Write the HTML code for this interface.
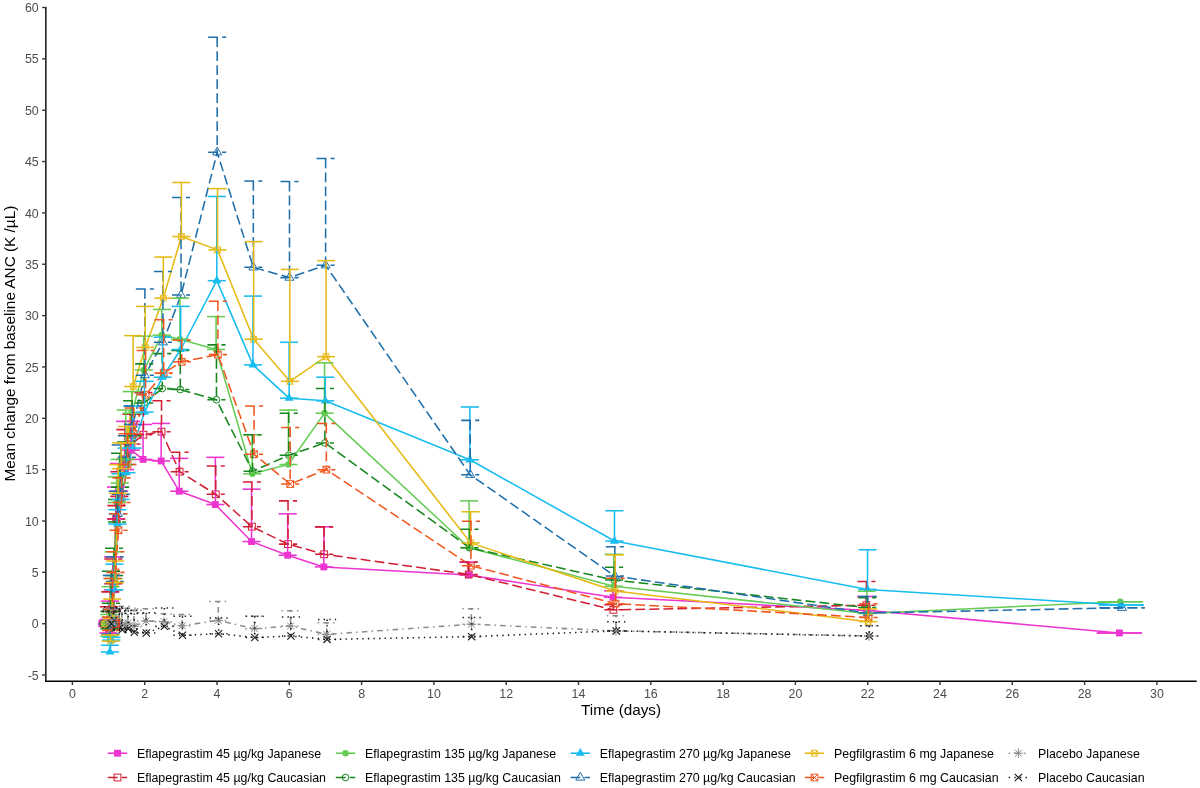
<!DOCTYPE html><html><head><meta charset="utf-8"><style>html,body{margin:0;padding:0;background:#fff}svg{display:block;will-change:transform}text{font-family:"Liberation Sans",sans-serif}</style></head><body>
<svg width="1200" height="788" viewBox="0 0 1200 788">
<rect width="1200" height="788" fill="#fff"/>
<polyline points="102.05,623.7 108.44,632.94 109.92,619.59 112.96,589.81 115.96,518.95 118.96,491.22 125,469.65 131.04,450.14 143.07,459.38 161.15,460.92 179.22,491.22 215.37,504.57 251.52,541.54 287.67,555.2 323.82,566.91 468.42,574.92 613.02,597.31 866.07,610.35 1119.39,632.94" stroke="#EC34D0" stroke-width="1.55" fill="none" stroke-linejoin="round"/>
<polyline points="116.05,623.7 108.8,626.78 110.29,611.38 113.32,583.65 116.32,518.95 119.32,496.35 125.36,459.38 131.4,443.98 143.43,434.73 161.51,431.65 179.58,471.7 215.73,494.3 251.88,526.65 288.03,544.11 324.18,554.27 468.78,574.4 613.38,609.84 866.43,605.21" stroke="#D21E34" stroke-width="1.55" fill="none" stroke-dasharray="9.8 4.2" stroke-linejoin="round"/>
<polyline points="104.05,623.7 109.16,636.02 110.65,617.54 113.68,578.51 116.68,502.51 119.68,483 125.72,459.38 131.76,413.17 143.8,370.03 161.87,335.11 179.95,339.22 216.1,349.49 252.25,473.76 288.4,464.52 324.55,413.17 469.15,547.7 613.75,586.21 866.8,613.43 1120.3,601.72" stroke="#66CC55" stroke-width="1.55" fill="none" stroke-linejoin="round"/>
<polyline points="103.05,623.7 109.53,628.84 111.01,603.16 114.04,575.43 117.05,522.03 120.05,487.11 126.08,464.52 132.12,435.76 144.16,402.9 162.23,388.52 180.31,389.54 216.46,399.81 252.61,471.19 288.76,455.27 324.91,442.95 469.51,547.7 614.11,580.05 867.16,607.58" stroke="#16861E" stroke-width="1.55" fill="none" stroke-dasharray="9.8 4.2" stroke-linejoin="round"/>
<polyline points="113.05,623.7 109.89,651.94 111.37,640.13 114.41,589.81 117.41,524.08 120.41,499.43 126.44,472.73 132.48,448.08 144.52,412.14 162.59,377.22 180.67,349.49 216.82,280.68 252.97,364.9 289.12,398.17 325.27,400.84 469.87,459.79 614.47,541.03 867.52,589.4 1121.2,605.01" stroke="#17BDF0" stroke-width="1.55" fill="none" stroke-linejoin="round"/>
<polyline points="114.05,623.7 110.25,633.97 111.73,609.32 114.77,581.59 117.77,513.81 120.77,494.3 126.81,457.33 132.84,424.46 144.88,375.17 162.96,342.3 181.03,295.06 217.18,152.31 253.33,267.33 289.48,277.6 325.63,265.28 470.23,474.79 614.83,576.05 867.88,613.02 1122.11,607.78" stroke="#1F6FAB" stroke-width="1.55" fill="none" stroke-dasharray="9.8 4.2" stroke-linejoin="round"/>
<polyline points="104.95,623.7 110.61,641.16 112.09,618.57 115.13,582.62 118.13,493.27 121.13,468.62 127.17,442.95 133.2,386.46 145.24,347.44 163.32,298.14 181.39,236.52 217.54,249.87 253.69,339.22 289.84,381.33 325.99,356.68 470.59,542.88 615.19,591.04 868.24,621.65" stroke="#E6B914" stroke-width="1.55" fill="none" stroke-linejoin="round"/>
<polyline points="115.55,623.7 110.97,630.38 112.45,609.32 115.49,572.35 118.49,530.24 121.49,502.51 127.53,464.52 133.57,433.71 145.6,394.68 163.68,373.11 181.75,361.82 217.9,354.63 254.05,454.25 290.2,484.03 326.35,469.65 470.95,565.67 615.55,603.67 868.6,617.44" stroke="#F0561E" stroke-width="1.55" fill="none" stroke-dasharray="9.8 4.2" stroke-linejoin="round"/>
<polyline points="109.05,623.7 111.33,620.62 112.82,625.75 115.85,622.67 118.85,620.62 121.85,624.73 127.89,622.98 133.93,626.37 145.97,621.03 164.04,621.65 182.12,625.75 218.27,620.41 254.42,628.73 290.57,625.96 326.72,634.38 471.32,624.21 615.92,630.89 868.97,636.02" stroke="#8C8C8C" stroke-width="1.55" fill="none" stroke-dasharray="1.4 4.2 5.6 4.2" stroke-linejoin="round"/>
<polyline points="111.35,623.7 111.7,626.78 113.18,621.65 116.21,627.81 119.21,625.75 122.21,629.86 128.25,628.84 134.29,632.33 146.33,632.94 164.4,626.37 182.48,635.31 218.63,633.76 254.78,637.46 290.93,636.02 327.08,639.41 471.68,636.64 616.28,630.89 869.33,636.02" stroke="#1A1A1A" stroke-width="1.55" fill="none" stroke-dasharray="1.4 4.2" stroke-linejoin="round"/>
<rect x="98.6" y="620.25" width="6.9" height="6.9" fill="#EC34D0"/>
<rect x="104.99" y="629.49" width="6.9" height="6.9" fill="#EC34D0"/>
<rect x="106.47" y="616.14" width="6.9" height="6.9" fill="#EC34D0"/>
<rect x="109.51" y="586.36" width="6.9" height="6.9" fill="#EC34D0"/>
<rect x="112.51" y="515.5" width="6.9" height="6.9" fill="#EC34D0"/>
<rect x="115.51" y="487.77" width="6.9" height="6.9" fill="#EC34D0"/>
<rect x="121.55" y="466.2" width="6.9" height="6.9" fill="#EC34D0"/>
<rect x="127.59" y="446.69" width="6.9" height="6.9" fill="#EC34D0"/>
<rect x="139.62" y="455.93" width="6.9" height="6.9" fill="#EC34D0"/>
<rect x="157.7" y="457.47" width="6.9" height="6.9" fill="#EC34D0"/>
<rect x="175.77" y="487.77" width="6.9" height="6.9" fill="#EC34D0"/>
<rect x="211.92" y="501.12" width="6.9" height="6.9" fill="#EC34D0"/>
<rect x="248.07" y="538.09" width="6.9" height="6.9" fill="#EC34D0"/>
<rect x="284.22" y="551.75" width="6.9" height="6.9" fill="#EC34D0"/>
<rect x="320.37" y="563.46" width="6.9" height="6.9" fill="#EC34D0"/>
<rect x="464.97" y="571.47" width="6.9" height="6.9" fill="#EC34D0"/>
<rect x="609.57" y="593.86" width="6.9" height="6.9" fill="#EC34D0"/>
<rect x="862.62" y="606.9" width="6.9" height="6.9" fill="#EC34D0"/>
<rect x="1115.94" y="629.49" width="6.9" height="6.9" fill="#EC34D0"/>
<rect x="112.65" y="620.3" width="6.8" height="6.8" fill="none" stroke="#D21E34" stroke-width="1"/>
<rect x="105.4" y="623.38" width="6.8" height="6.8" fill="none" stroke="#D21E34" stroke-width="1"/>
<rect x="106.89" y="607.98" width="6.8" height="6.8" fill="none" stroke="#D21E34" stroke-width="1"/>
<rect x="109.92" y="580.25" width="6.8" height="6.8" fill="none" stroke="#D21E34" stroke-width="1"/>
<rect x="112.92" y="515.55" width="6.8" height="6.8" fill="none" stroke="#D21E34" stroke-width="1"/>
<rect x="115.92" y="492.95" width="6.8" height="6.8" fill="none" stroke="#D21E34" stroke-width="1"/>
<rect x="121.96" y="455.98" width="6.8" height="6.8" fill="none" stroke="#D21E34" stroke-width="1"/>
<rect x="128" y="440.58" width="6.8" height="6.8" fill="none" stroke="#D21E34" stroke-width="1"/>
<rect x="140.03" y="431.33" width="6.8" height="6.8" fill="none" stroke="#D21E34" stroke-width="1"/>
<rect x="158.11" y="428.25" width="6.8" height="6.8" fill="none" stroke="#D21E34" stroke-width="1"/>
<rect x="176.18" y="468.3" width="6.8" height="6.8" fill="none" stroke="#D21E34" stroke-width="1"/>
<rect x="212.33" y="490.9" width="6.8" height="6.8" fill="none" stroke="#D21E34" stroke-width="1"/>
<rect x="248.48" y="523.25" width="6.8" height="6.8" fill="none" stroke="#D21E34" stroke-width="1"/>
<rect x="284.63" y="540.71" width="6.8" height="6.8" fill="none" stroke="#D21E34" stroke-width="1"/>
<rect x="320.78" y="550.87" width="6.8" height="6.8" fill="none" stroke="#D21E34" stroke-width="1"/>
<rect x="465.38" y="571" width="6.8" height="6.8" fill="none" stroke="#D21E34" stroke-width="1"/>
<rect x="609.98" y="606.44" width="6.8" height="6.8" fill="none" stroke="#D21E34" stroke-width="1"/>
<rect x="863.03" y="601.81" width="6.8" height="6.8" fill="none" stroke="#D21E34" stroke-width="1"/>
<circle cx="104.05" cy="623.7" r="3.3" fill="#66CC55"/>
<circle cx="109.16" cy="636.02" r="3.3" fill="#66CC55"/>
<circle cx="110.65" cy="617.54" r="3.3" fill="#66CC55"/>
<circle cx="113.68" cy="578.51" r="3.3" fill="#66CC55"/>
<circle cx="116.68" cy="502.51" r="3.3" fill="#66CC55"/>
<circle cx="119.68" cy="483" r="3.3" fill="#66CC55"/>
<circle cx="125.72" cy="459.38" r="3.3" fill="#66CC55"/>
<circle cx="131.76" cy="413.17" r="3.3" fill="#66CC55"/>
<circle cx="143.8" cy="370.03" r="3.3" fill="#66CC55"/>
<circle cx="161.87" cy="335.11" r="3.3" fill="#66CC55"/>
<circle cx="179.95" cy="339.22" r="3.3" fill="#66CC55"/>
<circle cx="216.1" cy="349.49" r="3.3" fill="#66CC55"/>
<circle cx="252.25" cy="473.76" r="3.3" fill="#66CC55"/>
<circle cx="288.4" cy="464.52" r="3.3" fill="#66CC55"/>
<circle cx="324.55" cy="413.17" r="3.3" fill="#66CC55"/>
<circle cx="469.15" cy="547.7" r="3.3" fill="#66CC55"/>
<circle cx="613.75" cy="586.21" r="3.3" fill="#66CC55"/>
<circle cx="866.8" cy="613.43" r="3.3" fill="#66CC55"/>
<circle cx="1120.3" cy="601.72" r="3.3" fill="#66CC55"/>
<circle cx="103.05" cy="623.7" r="3.35" fill="none" stroke="#16861E" stroke-width="1"/>
<circle cx="109.53" cy="628.84" r="3.35" fill="none" stroke="#16861E" stroke-width="1"/>
<circle cx="111.01" cy="603.16" r="3.35" fill="none" stroke="#16861E" stroke-width="1"/>
<circle cx="114.04" cy="575.43" r="3.35" fill="none" stroke="#16861E" stroke-width="1"/>
<circle cx="117.05" cy="522.03" r="3.35" fill="none" stroke="#16861E" stroke-width="1"/>
<circle cx="120.05" cy="487.11" r="3.35" fill="none" stroke="#16861E" stroke-width="1"/>
<circle cx="126.08" cy="464.52" r="3.35" fill="none" stroke="#16861E" stroke-width="1"/>
<circle cx="132.12" cy="435.76" r="3.35" fill="none" stroke="#16861E" stroke-width="1"/>
<circle cx="144.16" cy="402.9" r="3.35" fill="none" stroke="#16861E" stroke-width="1"/>
<circle cx="162.23" cy="388.52" r="3.35" fill="none" stroke="#16861E" stroke-width="1"/>
<circle cx="180.31" cy="389.54" r="3.35" fill="none" stroke="#16861E" stroke-width="1"/>
<circle cx="216.46" cy="399.81" r="3.35" fill="none" stroke="#16861E" stroke-width="1"/>
<circle cx="252.61" cy="471.19" r="3.35" fill="none" stroke="#16861E" stroke-width="1"/>
<circle cx="288.76" cy="455.27" r="3.35" fill="none" stroke="#16861E" stroke-width="1"/>
<circle cx="324.91" cy="442.95" r="3.35" fill="none" stroke="#16861E" stroke-width="1"/>
<circle cx="469.51" cy="547.7" r="3.35" fill="none" stroke="#16861E" stroke-width="1"/>
<circle cx="614.11" cy="580.05" r="3.35" fill="none" stroke="#16861E" stroke-width="1"/>
<circle cx="867.16" cy="607.58" r="3.35" fill="none" stroke="#16861E" stroke-width="1"/>
<path d="M113.05 618.49L117.56 626.3L108.54 626.3Z" fill="#17BDF0"/>
<path d="M109.89 646.73L114.4 654.55L105.38 654.55Z" fill="#17BDF0"/>
<path d="M111.37 634.92L115.88 642.74L106.86 642.74Z" fill="#17BDF0"/>
<path d="M114.41 584.6L118.92 592.41L109.89 592.41Z" fill="#17BDF0"/>
<path d="M117.41 518.87L121.92 526.69L112.89 526.69Z" fill="#17BDF0"/>
<path d="M120.41 494.22L124.92 502.04L115.9 502.04Z" fill="#17BDF0"/>
<path d="M126.44 467.52L130.96 475.34L121.93 475.34Z" fill="#17BDF0"/>
<path d="M132.48 442.87L136.99 450.69L127.97 450.69Z" fill="#17BDF0"/>
<path d="M144.52 406.93L149.03 414.74L140.01 414.74Z" fill="#17BDF0"/>
<path d="M162.59 372.01L167.11 379.82L158.08 379.82Z" fill="#17BDF0"/>
<path d="M180.67 344.28L185.18 352.1L176.16 352.1Z" fill="#17BDF0"/>
<path d="M216.82 275.47L221.33 283.29L212.31 283.29Z" fill="#17BDF0"/>
<path d="M252.97 359.69L257.48 367.5L248.46 367.5Z" fill="#17BDF0"/>
<path d="M289.12 392.96L293.63 400.78L284.61 400.78Z" fill="#17BDF0"/>
<path d="M325.27 395.63L329.78 403.45L320.76 403.45Z" fill="#17BDF0"/>
<path d="M469.87 454.58L474.38 462.4L465.36 462.4Z" fill="#17BDF0"/>
<path d="M614.47 535.82L618.98 543.63L609.96 543.63Z" fill="#17BDF0"/>
<path d="M867.52 584.19L872.03 592L863.01 592Z" fill="#17BDF0"/>
<path d="M1121.2 599.8L1125.71 607.61L1116.69 607.61Z" fill="#17BDF0"/>
<path d="M114.05 618.49L118.56 626.3L109.54 626.3Z" fill="none" stroke="#1F6FAB" stroke-width="1"/>
<path d="M110.25 628.76L114.76 636.57L105.74 636.57Z" fill="none" stroke="#1F6FAB" stroke-width="1"/>
<path d="M111.73 604.11L116.24 611.93L107.22 611.93Z" fill="none" stroke="#1F6FAB" stroke-width="1"/>
<path d="M114.77 576.38L119.28 584.2L110.26 584.2Z" fill="none" stroke="#1F6FAB" stroke-width="1"/>
<path d="M117.77 508.6L122.28 516.42L113.26 516.42Z" fill="none" stroke="#1F6FAB" stroke-width="1"/>
<path d="M120.77 489.09L125.28 496.9L116.26 496.9Z" fill="none" stroke="#1F6FAB" stroke-width="1"/>
<path d="M126.81 452.12L131.32 459.93L122.29 459.93Z" fill="none" stroke="#1F6FAB" stroke-width="1"/>
<path d="M132.84 419.25L137.35 427.07L128.33 427.07Z" fill="none" stroke="#1F6FAB" stroke-width="1"/>
<path d="M144.88 369.96L149.39 377.77L140.37 377.77Z" fill="none" stroke="#1F6FAB" stroke-width="1"/>
<path d="M162.96 337.09L167.47 344.91L158.44 344.91Z" fill="none" stroke="#1F6FAB" stroke-width="1"/>
<path d="M181.03 289.85L185.54 297.66L176.52 297.66Z" fill="none" stroke="#1F6FAB" stroke-width="1"/>
<path d="M217.18 147.1L221.69 154.91L212.67 154.91Z" fill="none" stroke="#1F6FAB" stroke-width="1"/>
<path d="M253.33 262.12L257.84 269.94L248.82 269.94Z" fill="none" stroke="#1F6FAB" stroke-width="1"/>
<path d="M289.48 272.39L293.99 280.21L284.97 280.21Z" fill="none" stroke="#1F6FAB" stroke-width="1"/>
<path d="M325.63 260.07L330.14 267.88L321.12 267.88Z" fill="none" stroke="#1F6FAB" stroke-width="1"/>
<path d="M470.23 469.58L474.74 477.39L465.72 477.39Z" fill="none" stroke="#1F6FAB" stroke-width="1"/>
<path d="M614.83 570.84L619.34 578.65L610.32 578.65Z" fill="none" stroke="#1F6FAB" stroke-width="1"/>
<path d="M867.88 607.81L872.39 615.62L863.37 615.62Z" fill="none" stroke="#1F6FAB" stroke-width="1"/>
<path d="M1122.11 602.57L1126.62 610.39L1117.59 610.39Z" fill="none" stroke="#1F6FAB" stroke-width="1"/>
<g stroke="#E6B914" stroke-width="1" fill="none"><circle cx="104.95" cy="623.7" r="3.35"/><path d="M101.35 620.1L108.55 627.3M101.35 627.3L108.55 620.1"/></g>
<g stroke="#E6B914" stroke-width="1" fill="none"><circle cx="110.61" cy="641.16" r="3.35"/><path d="M107.01 637.56L114.21 644.76M107.01 644.76L114.21 637.56"/></g>
<g stroke="#E6B914" stroke-width="1" fill="none"><circle cx="112.09" cy="618.57" r="3.35"/><path d="M108.49 614.97L115.69 622.17M108.49 622.17L115.69 614.97"/></g>
<g stroke="#E6B914" stroke-width="1" fill="none"><circle cx="115.13" cy="582.62" r="3.35"/><path d="M111.53 579.02L118.73 586.22M111.53 586.22L118.73 579.02"/></g>
<g stroke="#E6B914" stroke-width="1" fill="none"><circle cx="118.13" cy="493.27" r="3.35"/><path d="M114.53 489.67L121.73 496.87M114.53 496.87L121.73 489.67"/></g>
<g stroke="#E6B914" stroke-width="1" fill="none"><circle cx="121.13" cy="468.62" r="3.35"/><path d="M117.53 465.02L124.73 472.22M117.53 472.22L124.73 465.02"/></g>
<g stroke="#E6B914" stroke-width="1" fill="none"><circle cx="127.17" cy="442.95" r="3.35"/><path d="M123.57 439.35L130.77 446.55M123.57 446.55L130.77 439.35"/></g>
<g stroke="#E6B914" stroke-width="1" fill="none"><circle cx="133.2" cy="386.46" r="3.35"/><path d="M129.6 382.86L136.8 390.06M129.6 390.06L136.8 382.86"/></g>
<g stroke="#E6B914" stroke-width="1" fill="none"><circle cx="145.24" cy="347.44" r="3.35"/><path d="M141.64 343.84L148.84 351.04M141.64 351.04L148.84 343.84"/></g>
<g stroke="#E6B914" stroke-width="1" fill="none"><circle cx="163.32" cy="298.14" r="3.35"/><path d="M159.72 294.54L166.92 301.74M159.72 301.74L166.92 294.54"/></g>
<g stroke="#E6B914" stroke-width="1" fill="none"><circle cx="181.39" cy="236.52" r="3.35"/><path d="M177.79 232.92L184.99 240.12M177.79 240.12L184.99 232.92"/></g>
<g stroke="#E6B914" stroke-width="1" fill="none"><circle cx="217.54" cy="249.87" r="3.35"/><path d="M213.94 246.27L221.14 253.47M213.94 253.47L221.14 246.27"/></g>
<g stroke="#E6B914" stroke-width="1" fill="none"><circle cx="253.69" cy="339.22" r="3.35"/><path d="M250.09 335.62L257.29 342.82M250.09 342.82L257.29 335.62"/></g>
<g stroke="#E6B914" stroke-width="1" fill="none"><circle cx="289.84" cy="381.33" r="3.35"/><path d="M286.24 377.73L293.44 384.93M286.24 384.93L293.44 377.73"/></g>
<g stroke="#E6B914" stroke-width="1" fill="none"><circle cx="325.99" cy="356.68" r="3.35"/><path d="M322.39 353.08L329.59 360.28M322.39 360.28L329.59 353.08"/></g>
<g stroke="#E6B914" stroke-width="1" fill="none"><circle cx="470.59" cy="542.88" r="3.35"/><path d="M466.99 539.28L474.19 546.48M466.99 546.48L474.19 539.28"/></g>
<g stroke="#E6B914" stroke-width="1" fill="none"><circle cx="615.19" cy="591.04" r="3.35"/><path d="M611.59 587.44L618.79 594.64M611.59 594.64L618.79 587.44"/></g>
<g stroke="#E6B914" stroke-width="1" fill="none"><circle cx="868.24" cy="621.65" r="3.35"/><path d="M864.64 618.05L871.84 625.25M864.64 625.25L871.84 618.05"/></g>
<g stroke="#F0561E" stroke-width="1" fill="none"><rect x="112.2" y="620.35" width="6.7" height="6.7"/><path d="M112.2 620.35L118.9 627.05M112.2 627.05L118.9 620.35"/></g>
<g stroke="#F0561E" stroke-width="1" fill="none"><rect x="107.62" y="627.03" width="6.7" height="6.7"/><path d="M107.62 627.03L114.32 633.73M107.62 633.73L114.32 627.03"/></g>
<g stroke="#F0561E" stroke-width="1" fill="none"><rect x="109.1" y="605.97" width="6.7" height="6.7"/><path d="M109.1 605.97L115.8 612.67M109.1 612.67L115.8 605.97"/></g>
<g stroke="#F0561E" stroke-width="1" fill="none"><rect x="112.14" y="569" width="6.7" height="6.7"/><path d="M112.14 569L118.84 575.7M112.14 575.7L118.84 569"/></g>
<g stroke="#F0561E" stroke-width="1" fill="none"><rect x="115.14" y="526.89" width="6.7" height="6.7"/><path d="M115.14 526.89L121.84 533.59M115.14 533.59L121.84 526.89"/></g>
<g stroke="#F0561E" stroke-width="1" fill="none"><rect x="118.14" y="499.16" width="6.7" height="6.7"/><path d="M118.14 499.16L124.84 505.86M118.14 505.86L124.84 499.16"/></g>
<g stroke="#F0561E" stroke-width="1" fill="none"><rect x="124.18" y="461.17" width="6.7" height="6.7"/><path d="M124.18 461.17L130.88 467.87M124.18 467.87L130.88 461.17"/></g>
<g stroke="#F0561E" stroke-width="1" fill="none"><rect x="130.22" y="430.36" width="6.7" height="6.7"/><path d="M130.22 430.36L136.92 437.06M130.22 437.06L136.92 430.36"/></g>
<g stroke="#F0561E" stroke-width="1" fill="none"><rect x="142.25" y="391.33" width="6.7" height="6.7"/><path d="M142.25 391.33L148.95 398.03M142.25 398.03L148.95 391.33"/></g>
<g stroke="#F0561E" stroke-width="1" fill="none"><rect x="160.33" y="369.76" width="6.7" height="6.7"/><path d="M160.33 369.76L167.03 376.46M160.33 376.46L167.03 369.76"/></g>
<g stroke="#F0561E" stroke-width="1" fill="none"><rect x="178.4" y="358.47" width="6.7" height="6.7"/><path d="M178.4 358.47L185.1 365.17M178.4 365.17L185.1 358.47"/></g>
<g stroke="#F0561E" stroke-width="1" fill="none"><rect x="214.55" y="351.28" width="6.7" height="6.7"/><path d="M214.55 351.28L221.25 357.98M214.55 357.98L221.25 351.28"/></g>
<g stroke="#F0561E" stroke-width="1" fill="none"><rect x="250.7" y="450.9" width="6.7" height="6.7"/><path d="M250.7 450.9L257.4 457.6M250.7 457.6L257.4 450.9"/></g>
<g stroke="#F0561E" stroke-width="1" fill="none"><rect x="286.85" y="480.68" width="6.7" height="6.7"/><path d="M286.85 480.68L293.55 487.38M286.85 487.38L293.55 480.68"/></g>
<g stroke="#F0561E" stroke-width="1" fill="none"><rect x="323" y="466.3" width="6.7" height="6.7"/><path d="M323 466.3L329.7 473M323 473L329.7 466.3"/></g>
<g stroke="#F0561E" stroke-width="1" fill="none"><rect x="467.6" y="562.32" width="6.7" height="6.7"/><path d="M467.6 562.32L474.3 569.02M467.6 569.02L474.3 562.32"/></g>
<g stroke="#F0561E" stroke-width="1" fill="none"><rect x="612.2" y="600.32" width="6.7" height="6.7"/><path d="M612.2 600.32L618.9 607.02M612.2 607.02L618.9 600.32"/></g>
<g stroke="#F0561E" stroke-width="1" fill="none"><rect x="865.25" y="614.09" width="6.7" height="6.7"/><path d="M865.25 614.09L871.95 620.79M865.25 620.79L871.95 614.09"/></g>
<path d="M104.25 623.7H113.85M109.05 618.9V628.5M105.55 620.2L112.55 627.2M105.55 627.2L112.55 620.2" stroke="#8C8C8C" stroke-width="1" fill="none"/>
<path d="M106.53 620.62H116.13M111.33 615.82V625.42M107.83 617.12L114.83 624.12M107.83 624.12L114.83 617.12" stroke="#8C8C8C" stroke-width="1" fill="none"/>
<path d="M108.02 625.75H117.62M112.82 620.95V630.55M109.32 622.25L116.32 629.25M109.32 629.25L116.32 622.25" stroke="#8C8C8C" stroke-width="1" fill="none"/>
<path d="M111.05 622.67H120.65M115.85 617.87V627.47M112.35 619.17L119.35 626.17M112.35 626.17L119.35 619.17" stroke="#8C8C8C" stroke-width="1" fill="none"/>
<path d="M114.05 620.62H123.65M118.85 615.82V625.42M115.35 617.12L122.35 624.12M115.35 624.12L122.35 617.12" stroke="#8C8C8C" stroke-width="1" fill="none"/>
<path d="M117.05 624.73H126.65M121.85 619.93V629.53M118.35 621.23L125.35 628.23M118.35 628.23L125.35 621.23" stroke="#8C8C8C" stroke-width="1" fill="none"/>
<path d="M123.09 622.98H132.69M127.89 618.18V627.78M124.39 619.48L131.39 626.48M124.39 626.48L131.39 619.48" stroke="#8C8C8C" stroke-width="1" fill="none"/>
<path d="M129.13 626.37H138.73M133.93 621.57V631.17M130.43 622.87L137.43 629.87M130.43 629.87L137.43 622.87" stroke="#8C8C8C" stroke-width="1" fill="none"/>
<path d="M141.17 621.03H150.77M145.97 616.23V625.83M142.47 617.53L149.47 624.53M142.47 624.53L149.47 617.53" stroke="#8C8C8C" stroke-width="1" fill="none"/>
<path d="M159.24 621.65H168.84M164.04 616.85V626.45M160.54 618.15L167.54 625.15M160.54 625.15L167.54 618.15" stroke="#8C8C8C" stroke-width="1" fill="none"/>
<path d="M177.32 625.75H186.92M182.12 620.95V630.55M178.62 622.25L185.62 629.25M178.62 629.25L185.62 622.25" stroke="#8C8C8C" stroke-width="1" fill="none"/>
<path d="M213.47 620.41H223.07M218.27 615.61V625.21M214.77 616.91L221.77 623.91M214.77 623.91L221.77 616.91" stroke="#8C8C8C" stroke-width="1" fill="none"/>
<path d="M249.62 628.73H259.22M254.42 623.93V633.53M250.92 625.23L257.92 632.23M250.92 632.23L257.92 625.23" stroke="#8C8C8C" stroke-width="1" fill="none"/>
<path d="M285.77 625.96H295.37M290.57 621.16V630.76M287.07 622.46L294.07 629.46M287.07 629.46L294.07 622.46" stroke="#8C8C8C" stroke-width="1" fill="none"/>
<path d="M321.92 634.38H331.52M326.72 629.58V639.18M323.22 630.88L330.22 637.88M323.22 637.88L330.22 630.88" stroke="#8C8C8C" stroke-width="1" fill="none"/>
<path d="M466.52 624.21H476.12M471.32 619.41V629.01M467.82 620.71L474.82 627.71M467.82 627.71L474.82 620.71" stroke="#8C8C8C" stroke-width="1" fill="none"/>
<path d="M611.12 630.89H620.72M615.92 626.09V635.69M612.42 627.39L619.42 634.39M612.42 634.39L619.42 627.39" stroke="#8C8C8C" stroke-width="1" fill="none"/>
<path d="M864.17 636.02H873.77M868.97 631.22V640.82M865.47 632.52L872.47 639.52M865.47 639.52L872.47 632.52" stroke="#8C8C8C" stroke-width="1" fill="none"/>
<path d="M107.75 620.1L114.95 627.3M107.75 627.3L114.95 620.1" stroke="#1A1A1A" stroke-width="1.1" fill="none"/>
<path d="M108.1 623.18L115.3 630.38M108.1 630.38L115.3 623.18" stroke="#1A1A1A" stroke-width="1.1" fill="none"/>
<path d="M109.58 618.05L116.78 625.25M109.58 625.25L116.78 618.05" stroke="#1A1A1A" stroke-width="1.1" fill="none"/>
<path d="M112.61 624.21L119.81 631.41M112.61 631.41L119.81 624.21" stroke="#1A1A1A" stroke-width="1.1" fill="none"/>
<path d="M115.61 622.15L122.81 629.35M115.61 629.35L122.81 622.15" stroke="#1A1A1A" stroke-width="1.1" fill="none"/>
<path d="M118.61 626.26L125.81 633.46M118.61 633.46L125.81 626.26" stroke="#1A1A1A" stroke-width="1.1" fill="none"/>
<path d="M124.65 625.24L131.85 632.44M124.65 632.44L131.85 625.24" stroke="#1A1A1A" stroke-width="1.1" fill="none"/>
<path d="M130.69 628.73L137.89 635.93M130.69 635.93L137.89 628.73" stroke="#1A1A1A" stroke-width="1.1" fill="none"/>
<path d="M142.73 629.34L149.93 636.54M142.73 636.54L149.93 629.34" stroke="#1A1A1A" stroke-width="1.1" fill="none"/>
<path d="M160.8 622.77L168 629.97M160.8 629.97L168 622.77" stroke="#1A1A1A" stroke-width="1.1" fill="none"/>
<path d="M178.88 631.71L186.08 638.91M178.88 638.91L186.08 631.71" stroke="#1A1A1A" stroke-width="1.1" fill="none"/>
<path d="M215.03 630.16L222.23 637.36M215.03 637.36L222.23 630.16" stroke="#1A1A1A" stroke-width="1.1" fill="none"/>
<path d="M251.18 633.86L258.38 641.06M251.18 641.06L258.38 633.86" stroke="#1A1A1A" stroke-width="1.1" fill="none"/>
<path d="M287.33 632.42L294.53 639.62M287.33 639.62L294.53 632.42" stroke="#1A1A1A" stroke-width="1.1" fill="none"/>
<path d="M323.48 635.81L330.68 643.01M323.48 643.01L330.68 635.81" stroke="#1A1A1A" stroke-width="1.1" fill="none"/>
<path d="M468.08 633.04L475.28 640.24M468.08 640.24L475.28 633.04" stroke="#1A1A1A" stroke-width="1.1" fill="none"/>
<path d="M612.68 627.29L619.88 634.49M612.68 634.49L619.88 627.29" stroke="#1A1A1A" stroke-width="1.1" fill="none"/>
<path d="M865.73 632.42L872.93 639.62M865.73 639.62L872.93 632.42" stroke="#1A1A1A" stroke-width="1.1" fill="none"/>
<g stroke="#EC34D0" stroke-width="1.55" fill="none"><line x1="97.89" y1="623.7" x2="115.96" y2="623.7"/><line x1="97.89" y1="623.7" x2="115.96" y2="623.7"/><line x1="99.4" y1="619.59" x2="117.48" y2="619.59"/><line x1="108.44" y1="619.59" x2="108.44" y2="632.94"/><line x1="99.4" y1="632.94" x2="117.48" y2="632.94"/><line x1="100.89" y1="601.11" x2="118.96" y2="601.11"/><line x1="109.92" y1="601.11" x2="109.92" y2="619.59"/><line x1="100.89" y1="619.59" x2="118.96" y2="619.59"/><line x1="103.92" y1="556.95" x2="122" y2="556.95"/><line x1="112.96" y1="556.95" x2="112.96" y2="589.81"/><line x1="103.92" y1="589.81" x2="122" y2="589.81"/><line x1="106.92" y1="487.11" x2="125" y2="487.11"/><line x1="115.96" y1="487.11" x2="115.96" y2="518.95"/><line x1="106.92" y1="518.95" x2="125" y2="518.95"/><line x1="109.92" y1="463.49" x2="128" y2="463.49"/><line x1="118.96" y1="463.49" x2="118.96" y2="491.22"/><line x1="109.92" y1="491.22" x2="128" y2="491.22"/><line x1="115.96" y1="421.38" x2="134.04" y2="421.38"/><line x1="125" y1="421.38" x2="125" y2="469.65"/><line x1="115.96" y1="469.65" x2="134.04" y2="469.65"/><line x1="122" y1="421.38" x2="140.07" y2="421.38"/><line x1="131.04" y1="421.38" x2="131.04" y2="450.14"/><line x1="122" y1="450.14" x2="140.07" y2="450.14"/><line x1="134.04" y1="424.46" x2="152.11" y2="424.46"/><line x1="143.07" y1="424.46" x2="143.07" y2="459.38"/><line x1="134.04" y1="459.38" x2="152.11" y2="459.38"/><line x1="152.11" y1="423.44" x2="170.19" y2="423.44"/><line x1="161.15" y1="423.44" x2="161.15" y2="460.92"/><line x1="152.11" y1="460.92" x2="170.19" y2="460.92"/><line x1="170.19" y1="458.35" x2="188.26" y2="458.35"/><line x1="179.22" y1="458.35" x2="179.22" y2="491.22"/><line x1="170.19" y1="491.22" x2="188.26" y2="491.22"/><line x1="206.34" y1="457.33" x2="224.41" y2="457.33"/><line x1="215.37" y1="457.33" x2="215.37" y2="504.57"/><line x1="206.34" y1="504.57" x2="224.41" y2="504.57"/><line x1="242.49" y1="489.16" x2="260.56" y2="489.16"/><line x1="251.52" y1="489.16" x2="251.52" y2="541.54"/><line x1="242.49" y1="541.54" x2="260.56" y2="541.54"/><line x1="278.64" y1="513.81" x2="296.71" y2="513.81"/><line x1="287.67" y1="513.81" x2="287.67" y2="555.2"/><line x1="278.64" y1="555.2" x2="296.71" y2="555.2"/><line x1="314.79" y1="526.85" x2="332.86" y2="526.85"/><line x1="323.82" y1="526.85" x2="323.82" y2="566.91"/><line x1="314.79" y1="566.91" x2="332.86" y2="566.91"/><line x1="459.39" y1="562.08" x2="477.46" y2="562.08"/><line x1="468.42" y1="562.08" x2="468.42" y2="574.92"/><line x1="459.39" y1="574.92" x2="477.46" y2="574.92"/><line x1="603.99" y1="590.84" x2="622.06" y2="590.84"/><line x1="613.02" y1="590.84" x2="613.02" y2="597.31"/><line x1="603.99" y1="597.31" x2="622.06" y2="597.31"/><line x1="857.04" y1="596.48" x2="875.11" y2="596.48"/><line x1="866.07" y1="596.48" x2="866.07" y2="610.35"/><line x1="857.04" y1="610.35" x2="875.11" y2="610.35"/><line x1="1096.8" y1="632.94" x2="1141.99" y2="632.94"/><line x1="1096.8" y1="632.94" x2="1141.99" y2="632.94"/></g>
<g stroke="#D21E34" stroke-width="1.55" fill="none" stroke-dasharray="9.8 4.2"><line x1="98.25" y1="623.7" x2="116.32" y2="623.7"/><line x1="98.25" y1="623.7" x2="116.32" y2="623.7"/><line x1="99.77" y1="606.75" x2="117.84" y2="606.75"/><line x1="108.8" y1="606.75" x2="108.8" y2="626.78"/><line x1="99.77" y1="626.78" x2="117.84" y2="626.78"/><line x1="101.25" y1="591.86" x2="119.32" y2="591.86"/><line x1="110.29" y1="591.86" x2="110.29" y2="611.38"/><line x1="101.25" y1="611.38" x2="119.32" y2="611.38"/><line x1="104.28" y1="559" x2="122.36" y2="559"/><line x1="113.32" y1="559" x2="113.32" y2="583.65"/><line x1="104.28" y1="583.65" x2="122.36" y2="583.65"/><line x1="107.28" y1="505.6" x2="125.36" y2="505.6"/><line x1="116.32" y1="505.6" x2="116.32" y2="518.95"/><line x1="107.28" y1="518.95" x2="125.36" y2="518.95"/><line x1="110.29" y1="471.7" x2="128.36" y2="471.7"/><line x1="119.32" y1="471.7" x2="119.32" y2="496.35"/><line x1="110.29" y1="496.35" x2="128.36" y2="496.35"/><line x1="116.32" y1="429.6" x2="134.4" y2="429.6"/><line x1="125.36" y1="429.6" x2="125.36" y2="459.38"/><line x1="116.32" y1="459.38" x2="134.4" y2="459.38"/><line x1="122.36" y1="414.19" x2="140.43" y2="414.19"/><line x1="131.4" y1="414.19" x2="131.4" y2="443.98"/><line x1="122.36" y1="443.98" x2="140.43" y2="443.98"/><line x1="134.4" y1="392.63" x2="152.47" y2="392.63"/><line x1="143.43" y1="392.63" x2="143.43" y2="434.73"/><line x1="134.4" y1="434.73" x2="152.47" y2="434.73"/><line x1="152.47" y1="400.84" x2="170.55" y2="400.84"/><line x1="161.51" y1="400.84" x2="161.51" y2="431.65"/><line x1="152.47" y1="431.65" x2="170.55" y2="431.65"/><line x1="170.55" y1="452.19" x2="188.62" y2="452.19"/><line x1="179.58" y1="452.19" x2="179.58" y2="471.7"/><line x1="170.55" y1="471.7" x2="188.62" y2="471.7"/><line x1="206.7" y1="466.06" x2="224.77" y2="466.06"/><line x1="215.73" y1="466.06" x2="215.73" y2="494.3"/><line x1="206.7" y1="494.3" x2="224.77" y2="494.3"/><line x1="242.85" y1="481.97" x2="260.92" y2="481.97"/><line x1="251.88" y1="481.97" x2="251.88" y2="526.65"/><line x1="242.85" y1="526.65" x2="260.92" y2="526.65"/><line x1="279" y1="500.87" x2="297.07" y2="500.87"/><line x1="288.03" y1="500.87" x2="288.03" y2="544.11"/><line x1="279" y1="544.11" x2="297.07" y2="544.11"/><line x1="315.15" y1="526.85" x2="333.22" y2="526.85"/><line x1="324.18" y1="526.85" x2="324.18" y2="554.27"/><line x1="315.15" y1="554.27" x2="333.22" y2="554.27"/><line x1="459.75" y1="562.08" x2="477.82" y2="562.08"/><line x1="468.78" y1="562.08" x2="468.78" y2="574.4"/><line x1="459.75" y1="574.4" x2="477.82" y2="574.4"/><line x1="604.35" y1="604.6" x2="622.42" y2="604.6"/><line x1="613.38" y1="604.6" x2="613.38" y2="609.84"/><line x1="604.35" y1="609.84" x2="622.42" y2="609.84"/><line x1="857.4" y1="581.59" x2="875.47" y2="581.59"/><line x1="866.43" y1="581.59" x2="866.43" y2="605.21"/><line x1="857.4" y1="605.21" x2="875.47" y2="605.21"/></g>
<g stroke="#66CC55" stroke-width="1.55" fill="none"><line x1="98.61" y1="623.7" x2="116.68" y2="623.7"/><line x1="98.61" y1="623.7" x2="116.68" y2="623.7"/><line x1="100.13" y1="614.46" x2="118.2" y2="614.46"/><line x1="109.16" y1="614.46" x2="109.16" y2="636.02"/><line x1="100.13" y1="636.02" x2="118.2" y2="636.02"/><line x1="101.61" y1="586.73" x2="119.68" y2="586.73"/><line x1="110.65" y1="586.73" x2="110.65" y2="617.54"/><line x1="101.61" y1="617.54" x2="119.68" y2="617.54"/><line x1="104.65" y1="551.81" x2="122.72" y2="551.81"/><line x1="113.68" y1="551.81" x2="113.68" y2="578.51"/><line x1="104.65" y1="578.51" x2="122.72" y2="578.51"/><line x1="107.65" y1="476.84" x2="125.72" y2="476.84"/><line x1="116.68" y1="476.84" x2="116.68" y2="502.51"/><line x1="107.65" y1="502.51" x2="125.72" y2="502.51"/><line x1="110.65" y1="459.38" x2="128.72" y2="459.38"/><line x1="119.68" y1="459.38" x2="119.68" y2="483"/><line x1="110.65" y1="483" x2="128.72" y2="483"/><line x1="116.68" y1="410.08" x2="134.76" y2="410.08"/><line x1="125.72" y1="410.08" x2="125.72" y2="459.38"/><line x1="116.68" y1="459.38" x2="134.76" y2="459.38"/><line x1="122.72" y1="391.6" x2="140.8" y2="391.6"/><line x1="131.76" y1="391.6" x2="131.76" y2="413.17"/><line x1="122.72" y1="413.17" x2="140.8" y2="413.17"/><line x1="134.76" y1="336.14" x2="152.83" y2="336.14"/><line x1="143.8" y1="336.14" x2="143.8" y2="370.03"/><line x1="134.76" y1="370.03" x2="152.83" y2="370.03"/><line x1="152.83" y1="309.44" x2="170.91" y2="309.44"/><line x1="161.87" y1="309.44" x2="161.87" y2="335.11"/><line x1="152.83" y1="335.11" x2="170.91" y2="335.11"/><line x1="170.91" y1="298.14" x2="188.98" y2="298.14"/><line x1="179.95" y1="298.14" x2="179.95" y2="339.22"/><line x1="170.91" y1="339.22" x2="188.98" y2="339.22"/><line x1="207.06" y1="316.63" x2="225.13" y2="316.63"/><line x1="216.1" y1="316.63" x2="216.1" y2="349.49"/><line x1="207.06" y1="349.49" x2="225.13" y2="349.49"/><line x1="243.21" y1="434.73" x2="261.28" y2="434.73"/><line x1="252.25" y1="434.73" x2="252.25" y2="473.76"/><line x1="243.21" y1="473.76" x2="261.28" y2="473.76"/><line x1="279.36" y1="410.08" x2="297.43" y2="410.08"/><line x1="288.4" y1="410.08" x2="288.4" y2="464.52"/><line x1="279.36" y1="464.52" x2="297.43" y2="464.52"/><line x1="315.51" y1="362.84" x2="333.58" y2="362.84"/><line x1="324.55" y1="362.84" x2="324.55" y2="413.17"/><line x1="315.51" y1="413.17" x2="333.58" y2="413.17"/><line x1="460.11" y1="500.87" x2="478.18" y2="500.87"/><line x1="469.15" y1="500.87" x2="469.15" y2="547.7"/><line x1="460.11" y1="547.7" x2="478.18" y2="547.7"/><line x1="604.71" y1="554.27" x2="622.78" y2="554.27"/><line x1="613.75" y1="554.27" x2="613.75" y2="586.21"/><line x1="604.71" y1="586.21" x2="622.78" y2="586.21"/><line x1="857.76" y1="591.14" x2="875.83" y2="591.14"/><line x1="866.8" y1="591.14" x2="866.8" y2="613.43"/><line x1="857.76" y1="613.43" x2="875.83" y2="613.43"/><line x1="1097.7" y1="601.72" x2="1142.89" y2="601.72"/><line x1="1097.7" y1="601.72" x2="1142.89" y2="601.72"/></g>
<g stroke="#16861E" stroke-width="1.55" fill="none" stroke-dasharray="9.8 4.2"><line x1="98.97" y1="623.7" x2="117.05" y2="623.7"/><line x1="98.97" y1="623.7" x2="117.05" y2="623.7"/><line x1="100.49" y1="611.38" x2="118.56" y2="611.38"/><line x1="109.53" y1="611.38" x2="109.53" y2="628.84"/><line x1="100.49" y1="628.84" x2="118.56" y2="628.84"/><line x1="101.97" y1="571.32" x2="120.05" y2="571.32"/><line x1="111.01" y1="571.32" x2="111.01" y2="603.16"/><line x1="101.97" y1="603.16" x2="120.05" y2="603.16"/><line x1="105.01" y1="548.22" x2="123.08" y2="548.22"/><line x1="114.04" y1="548.22" x2="114.04" y2="575.43"/><line x1="105.01" y1="575.43" x2="123.08" y2="575.43"/><line x1="108.01" y1="499.43" x2="126.08" y2="499.43"/><line x1="117.05" y1="499.43" x2="117.05" y2="522.03"/><line x1="108.01" y1="522.03" x2="126.08" y2="522.03"/><line x1="111.01" y1="453.22" x2="129.08" y2="453.22"/><line x1="120.05" y1="453.22" x2="120.05" y2="487.11"/><line x1="111.01" y1="487.11" x2="129.08" y2="487.11"/><line x1="117.05" y1="441.92" x2="135.12" y2="441.92"/><line x1="126.08" y1="441.92" x2="126.08" y2="464.52"/><line x1="117.05" y1="464.52" x2="135.12" y2="464.52"/><line x1="123.08" y1="400.84" x2="141.16" y2="400.84"/><line x1="132.12" y1="400.84" x2="132.12" y2="435.76"/><line x1="123.08" y1="435.76" x2="141.16" y2="435.76"/><line x1="135.12" y1="363.87" x2="153.2" y2="363.87"/><line x1="144.16" y1="363.87" x2="144.16" y2="402.9"/><line x1="135.12" y1="402.9" x2="153.2" y2="402.9"/><line x1="153.2" y1="353.6" x2="171.27" y2="353.6"/><line x1="162.23" y1="353.6" x2="162.23" y2="388.52"/><line x1="153.2" y1="388.52" x2="171.27" y2="388.52"/><line x1="171.27" y1="350.52" x2="189.35" y2="350.52"/><line x1="180.31" y1="350.52" x2="180.31" y2="389.54"/><line x1="171.27" y1="389.54" x2="189.35" y2="389.54"/><line x1="207.42" y1="344.87" x2="225.5" y2="344.87"/><line x1="216.46" y1="344.87" x2="216.46" y2="399.81"/><line x1="207.42" y1="399.81" x2="225.5" y2="399.81"/><line x1="243.57" y1="434.73" x2="261.65" y2="434.73"/><line x1="252.61" y1="434.73" x2="252.61" y2="471.19"/><line x1="243.57" y1="471.19" x2="261.65" y2="471.19"/><line x1="279.72" y1="413.17" x2="297.8" y2="413.17"/><line x1="288.76" y1="413.17" x2="288.76" y2="455.27"/><line x1="279.72" y1="455.27" x2="297.8" y2="455.27"/><line x1="315.87" y1="388.52" x2="333.95" y2="388.52"/><line x1="324.91" y1="388.52" x2="324.91" y2="442.95"/><line x1="315.87" y1="442.95" x2="333.95" y2="442.95"/><line x1="460.47" y1="529.22" x2="478.55" y2="529.22"/><line x1="469.51" y1="529.22" x2="469.51" y2="547.7"/><line x1="460.47" y1="547.7" x2="478.55" y2="547.7"/><line x1="605.07" y1="567.22" x2="623.15" y2="567.22"/><line x1="614.11" y1="567.22" x2="614.11" y2="580.05"/><line x1="605.07" y1="580.05" x2="623.15" y2="580.05"/><line x1="858.12" y1="597.61" x2="876.2" y2="597.61"/><line x1="867.16" y1="597.61" x2="867.16" y2="607.58"/><line x1="858.12" y1="607.58" x2="876.2" y2="607.58"/></g>
<g stroke="#17BDF0" stroke-width="1.55" fill="none"><line x1="99.33" y1="623.7" x2="117.41" y2="623.7"/><line x1="99.33" y1="623.7" x2="117.41" y2="623.7"/><line x1="100.85" y1="645.27" x2="118.93" y2="645.27"/><line x1="109.89" y1="645.27" x2="109.89" y2="651.94"/><line x1="100.85" y1="651.94" x2="118.93" y2="651.94"/><line x1="102.33" y1="637.36" x2="120.41" y2="637.36"/><line x1="111.37" y1="637.36" x2="111.37" y2="640.13"/><line x1="102.33" y1="640.13" x2="120.41" y2="640.13"/><line x1="105.37" y1="564.13" x2="123.44" y2="564.13"/><line x1="114.41" y1="564.13" x2="114.41" y2="589.81"/><line x1="105.37" y1="589.81" x2="123.44" y2="589.81"/><line x1="108.37" y1="509.7" x2="126.44" y2="509.7"/><line x1="117.41" y1="509.7" x2="117.41" y2="524.08"/><line x1="108.37" y1="524.08" x2="126.44" y2="524.08"/><line x1="111.37" y1="473.76" x2="129.44" y2="473.76"/><line x1="120.41" y1="473.76" x2="120.41" y2="499.43"/><line x1="111.37" y1="499.43" x2="129.44" y2="499.43"/><line x1="117.41" y1="448.08" x2="135.48" y2="448.08"/><line x1="126.44" y1="448.08" x2="126.44" y2="472.73"/><line x1="117.41" y1="472.73" x2="135.48" y2="472.73"/><line x1="123.44" y1="405.98" x2="141.52" y2="405.98"/><line x1="132.48" y1="405.98" x2="132.48" y2="448.08"/><line x1="123.44" y1="448.08" x2="141.52" y2="448.08"/><line x1="135.48" y1="381.33" x2="153.56" y2="381.33"/><line x1="144.52" y1="381.33" x2="144.52" y2="412.14"/><line x1="135.48" y1="412.14" x2="153.56" y2="412.14"/><line x1="153.56" y1="337.17" x2="171.63" y2="337.17"/><line x1="162.59" y1="337.17" x2="162.59" y2="377.22"/><line x1="153.56" y1="377.22" x2="171.63" y2="377.22"/><line x1="171.63" y1="306.36" x2="189.71" y2="306.36"/><line x1="180.67" y1="306.36" x2="180.67" y2="349.49"/><line x1="171.63" y1="349.49" x2="189.71" y2="349.49"/><line x1="207.78" y1="196.47" x2="225.86" y2="196.47"/><line x1="216.82" y1="196.47" x2="216.82" y2="280.68"/><line x1="207.78" y1="280.68" x2="225.86" y2="280.68"/><line x1="243.93" y1="296.09" x2="262.01" y2="296.09"/><line x1="252.97" y1="296.09" x2="252.97" y2="364.9"/><line x1="243.93" y1="364.9" x2="262.01" y2="364.9"/><line x1="280.08" y1="342.3" x2="298.16" y2="342.3"/><line x1="289.12" y1="342.3" x2="289.12" y2="398.17"/><line x1="280.08" y1="398.17" x2="298.16" y2="398.17"/><line x1="316.23" y1="377.22" x2="334.31" y2="377.22"/><line x1="325.27" y1="377.22" x2="325.27" y2="400.84"/><line x1="316.23" y1="400.84" x2="334.31" y2="400.84"/><line x1="460.83" y1="407" x2="478.91" y2="407"/><line x1="469.87" y1="407" x2="469.87" y2="459.79"/><line x1="460.83" y1="459.79" x2="478.91" y2="459.79"/><line x1="605.43" y1="510.73" x2="623.51" y2="510.73"/><line x1="614.47" y1="510.73" x2="614.47" y2="541.03"/><line x1="605.43" y1="541.03" x2="623.51" y2="541.03"/><line x1="858.48" y1="549.76" x2="876.56" y2="549.76"/><line x1="867.52" y1="549.76" x2="867.52" y2="589.4"/><line x1="858.48" y1="589.4" x2="876.56" y2="589.4"/><line x1="1098.61" y1="605.01" x2="1143.8" y2="605.01"/><line x1="1098.61" y1="605.01" x2="1143.8" y2="605.01"/></g>
<g stroke="#1F6FAB" stroke-width="1.55" fill="none" stroke-dasharray="9.8 4.2"><line x1="99.69" y1="623.7" x2="117.77" y2="623.7"/><line x1="99.69" y1="623.7" x2="117.77" y2="623.7"/><line x1="101.21" y1="623.7" x2="119.29" y2="623.7"/><line x1="110.25" y1="623.7" x2="110.25" y2="633.97"/><line x1="101.21" y1="633.97" x2="119.29" y2="633.97"/><line x1="102.69" y1="575.43" x2="120.77" y2="575.43"/><line x1="111.73" y1="575.43" x2="111.73" y2="609.32"/><line x1="102.69" y1="609.32" x2="120.77" y2="609.32"/><line x1="105.73" y1="556.95" x2="123.81" y2="556.95"/><line x1="114.77" y1="556.95" x2="114.77" y2="581.59"/><line x1="105.73" y1="581.59" x2="123.81" y2="581.59"/><line x1="108.73" y1="491.22" x2="126.81" y2="491.22"/><line x1="117.77" y1="491.22" x2="117.77" y2="513.81"/><line x1="108.73" y1="513.81" x2="126.81" y2="513.81"/><line x1="111.73" y1="445" x2="129.81" y2="445"/><line x1="120.77" y1="445" x2="120.77" y2="494.3"/><line x1="111.73" y1="494.3" x2="129.81" y2="494.3"/><line x1="117.77" y1="435.76" x2="135.84" y2="435.76"/><line x1="126.81" y1="435.76" x2="126.81" y2="457.33"/><line x1="117.77" y1="457.33" x2="135.84" y2="457.33"/><line x1="123.81" y1="405.98" x2="141.88" y2="405.98"/><line x1="132.84" y1="405.98" x2="132.84" y2="424.46"/><line x1="123.81" y1="424.46" x2="141.88" y2="424.46"/><line x1="135.84" y1="288.9" x2="153.92" y2="288.9"/><line x1="144.88" y1="288.9" x2="144.88" y2="375.17"/><line x1="135.84" y1="375.17" x2="153.92" y2="375.17"/><line x1="153.92" y1="271.44" x2="171.99" y2="271.44"/><line x1="162.96" y1="271.44" x2="162.96" y2="342.3"/><line x1="153.92" y1="342.3" x2="171.99" y2="342.3"/><line x1="171.99" y1="197.5" x2="190.07" y2="197.5"/><line x1="181.03" y1="197.5" x2="181.03" y2="295.06"/><line x1="171.99" y1="295.06" x2="190.07" y2="295.06"/><line x1="208.14" y1="37.28" x2="226.22" y2="37.28"/><line x1="217.18" y1="37.28" x2="217.18" y2="152.31"/><line x1="208.14" y1="152.31" x2="226.22" y2="152.31"/><line x1="244.29" y1="181.06" x2="262.37" y2="181.06"/><line x1="253.33" y1="181.06" x2="253.33" y2="267.33"/><line x1="244.29" y1="267.33" x2="262.37" y2="267.33"/><line x1="280.44" y1="181.58" x2="298.52" y2="181.58"/><line x1="289.48" y1="181.58" x2="289.48" y2="277.6"/><line x1="280.44" y1="277.6" x2="298.52" y2="277.6"/><line x1="316.59" y1="158.47" x2="334.67" y2="158.47"/><line x1="325.63" y1="158.47" x2="325.63" y2="265.28"/><line x1="316.59" y1="265.28" x2="334.67" y2="265.28"/><line x1="461.19" y1="420.35" x2="479.27" y2="420.35"/><line x1="470.23" y1="420.35" x2="470.23" y2="474.79"/><line x1="461.19" y1="474.79" x2="479.27" y2="474.79"/><line x1="605.79" y1="546.68" x2="623.87" y2="546.68"/><line x1="614.83" y1="546.68" x2="614.83" y2="576.05"/><line x1="605.79" y1="576.05" x2="623.87" y2="576.05"/><line x1="858.84" y1="596.48" x2="876.92" y2="596.48"/><line x1="867.88" y1="596.48" x2="867.88" y2="613.02"/><line x1="858.84" y1="613.02" x2="876.92" y2="613.02"/><line x1="1099.51" y1="607.78" x2="1144.7" y2="607.78"/><line x1="1099.51" y1="607.78" x2="1144.7" y2="607.78"/></g>
<g stroke="#E6B914" stroke-width="1.55" fill="none"><line x1="100.05" y1="623.7" x2="118.13" y2="623.7"/><line x1="100.05" y1="623.7" x2="118.13" y2="623.7"/><line x1="101.57" y1="635" x2="119.65" y2="635"/><line x1="110.61" y1="635" x2="110.61" y2="641.16"/><line x1="101.57" y1="641.16" x2="119.65" y2="641.16"/><line x1="103.06" y1="599.05" x2="121.13" y2="599.05"/><line x1="112.09" y1="599.05" x2="112.09" y2="618.57"/><line x1="103.06" y1="618.57" x2="121.13" y2="618.57"/><line x1="106.09" y1="561.05" x2="124.17" y2="561.05"/><line x1="115.13" y1="561.05" x2="115.13" y2="582.62"/><line x1="106.09" y1="582.62" x2="124.17" y2="582.62"/><line x1="109.09" y1="464.52" x2="127.17" y2="464.52"/><line x1="118.13" y1="464.52" x2="118.13" y2="493.27"/><line x1="109.09" y1="493.27" x2="127.17" y2="493.27"/><line x1="112.09" y1="442.95" x2="130.17" y2="442.95"/><line x1="121.13" y1="442.95" x2="121.13" y2="468.62"/><line x1="112.09" y1="468.62" x2="130.17" y2="468.62"/><line x1="118.13" y1="426.52" x2="136.2" y2="426.52"/><line x1="127.17" y1="426.52" x2="127.17" y2="442.95"/><line x1="118.13" y1="442.95" x2="136.2" y2="442.95"/><line x1="124.17" y1="335.63" x2="142.24" y2="335.63"/><line x1="133.2" y1="335.63" x2="133.2" y2="386.46"/><line x1="124.17" y1="386.46" x2="142.24" y2="386.46"/><line x1="136.2" y1="306.36" x2="154.28" y2="306.36"/><line x1="145.24" y1="306.36" x2="145.24" y2="347.44"/><line x1="136.2" y1="347.44" x2="154.28" y2="347.44"/><line x1="154.28" y1="257.06" x2="172.35" y2="257.06"/><line x1="163.32" y1="257.06" x2="163.32" y2="298.14"/><line x1="154.28" y1="298.14" x2="172.35" y2="298.14"/><line x1="172.35" y1="182.5" x2="190.43" y2="182.5"/><line x1="181.39" y1="182.5" x2="181.39" y2="236.52"/><line x1="172.35" y1="236.52" x2="190.43" y2="236.52"/><line x1="208.5" y1="188.66" x2="226.58" y2="188.66"/><line x1="217.54" y1="188.66" x2="217.54" y2="249.87"/><line x1="208.5" y1="249.87" x2="226.58" y2="249.87"/><line x1="244.65" y1="241.66" x2="262.73" y2="241.66"/><line x1="253.69" y1="241.66" x2="253.69" y2="339.22"/><line x1="244.65" y1="339.22" x2="262.73" y2="339.22"/><line x1="280.8" y1="269.39" x2="298.88" y2="269.39"/><line x1="289.84" y1="269.39" x2="289.84" y2="381.33"/><line x1="280.8" y1="381.33" x2="298.88" y2="381.33"/><line x1="316.95" y1="260.66" x2="335.03" y2="260.66"/><line x1="325.99" y1="260.66" x2="325.99" y2="356.68"/><line x1="316.95" y1="356.68" x2="335.03" y2="356.68"/><line x1="461.55" y1="511.76" x2="479.63" y2="511.76"/><line x1="470.59" y1="511.76" x2="470.59" y2="542.88"/><line x1="461.55" y1="542.88" x2="479.63" y2="542.88"/><line x1="606.15" y1="554.89" x2="624.23" y2="554.89"/><line x1="615.19" y1="554.89" x2="615.19" y2="591.04"/><line x1="606.15" y1="591.04" x2="624.23" y2="591.04"/><line x1="859.2" y1="609.01" x2="877.28" y2="609.01"/><line x1="868.24" y1="609.01" x2="868.24" y2="621.65"/><line x1="859.2" y1="621.65" x2="877.28" y2="621.65"/></g>
<g stroke="#F0561E" stroke-width="1.55" fill="none" stroke-dasharray="9.8 4.2"><line x1="100.42" y1="623.7" x2="118.49" y2="623.7"/><line x1="100.42" y1="623.7" x2="118.49" y2="623.7"/><line x1="101.93" y1="617.02" x2="120.01" y2="617.02"/><line x1="110.97" y1="617.02" x2="110.97" y2="630.38"/><line x1="101.93" y1="630.38" x2="120.01" y2="630.38"/><line x1="103.42" y1="578.51" x2="121.49" y2="578.51"/><line x1="112.45" y1="578.51" x2="112.45" y2="609.32"/><line x1="103.42" y1="609.32" x2="121.49" y2="609.32"/><line x1="106.45" y1="551.81" x2="124.53" y2="551.81"/><line x1="115.49" y1="551.81" x2="115.49" y2="572.35"/><line x1="106.45" y1="572.35" x2="124.53" y2="572.35"/><line x1="109.45" y1="513.81" x2="127.53" y2="513.81"/><line x1="118.49" y1="513.81" x2="118.49" y2="530.24"/><line x1="109.45" y1="530.24" x2="127.53" y2="530.24"/><line x1="112.45" y1="477.87" x2="130.53" y2="477.87"/><line x1="121.49" y1="477.87" x2="121.49" y2="502.51"/><line x1="112.45" y1="502.51" x2="130.53" y2="502.51"/><line x1="118.49" y1="433.71" x2="136.57" y2="433.71"/><line x1="127.53" y1="433.71" x2="127.53" y2="464.52"/><line x1="118.49" y1="464.52" x2="136.57" y2="464.52"/><line x1="124.53" y1="408.03" x2="142.6" y2="408.03"/><line x1="133.57" y1="408.03" x2="133.57" y2="433.71"/><line x1="124.53" y1="433.71" x2="142.6" y2="433.71"/><line x1="136.57" y1="350.52" x2="154.64" y2="350.52"/><line x1="145.6" y1="350.52" x2="145.6" y2="394.68"/><line x1="136.57" y1="394.68" x2="154.64" y2="394.68"/><line x1="154.64" y1="319.71" x2="172.72" y2="319.71"/><line x1="163.68" y1="319.71" x2="163.68" y2="373.11"/><line x1="154.64" y1="373.11" x2="172.72" y2="373.11"/><line x1="172.72" y1="340.25" x2="190.79" y2="340.25"/><line x1="181.75" y1="340.25" x2="181.75" y2="361.82"/><line x1="172.72" y1="361.82" x2="190.79" y2="361.82"/><line x1="208.87" y1="301.22" x2="226.94" y2="301.22"/><line x1="217.9" y1="301.22" x2="217.9" y2="354.63"/><line x1="208.87" y1="354.63" x2="226.94" y2="354.63"/><line x1="245.02" y1="405.98" x2="263.09" y2="405.98"/><line x1="254.05" y1="405.98" x2="254.05" y2="454.25"/><line x1="245.02" y1="454.25" x2="263.09" y2="454.25"/><line x1="281.17" y1="427.54" x2="299.24" y2="427.54"/><line x1="290.2" y1="427.54" x2="290.2" y2="484.03"/><line x1="281.17" y1="484.03" x2="299.24" y2="484.03"/><line x1="317.32" y1="423.44" x2="335.39" y2="423.44"/><line x1="326.35" y1="423.44" x2="326.35" y2="469.65"/><line x1="317.32" y1="469.65" x2="335.39" y2="469.65"/><line x1="461.92" y1="521.21" x2="479.99" y2="521.21"/><line x1="470.95" y1="521.21" x2="470.95" y2="565.67"/><line x1="461.92" y1="565.67" x2="479.99" y2="565.67"/><line x1="606.52" y1="578.31" x2="624.59" y2="578.31"/><line x1="615.55" y1="578.31" x2="615.55" y2="603.67"/><line x1="606.52" y1="603.67" x2="624.59" y2="603.67"/><line x1="859.57" y1="603.67" x2="877.64" y2="603.67"/><line x1="868.6" y1="603.67" x2="868.6" y2="617.44"/><line x1="859.57" y1="617.44" x2="877.64" y2="617.44"/></g>
<g stroke="#8C8C8C" stroke-width="1.55" fill="none" stroke-dasharray="1.4 4.2 5.6 4.2"><line x1="100.78" y1="623.7" x2="118.85" y2="623.7"/><line x1="100.78" y1="623.7" x2="118.85" y2="623.7"/><line x1="102.3" y1="608.3" x2="120.37" y2="608.3"/><line x1="111.33" y1="608.3" x2="111.33" y2="620.62"/><line x1="102.3" y1="620.62" x2="120.37" y2="620.62"/><line x1="103.78" y1="611.38" x2="121.85" y2="611.38"/><line x1="112.82" y1="611.38" x2="112.82" y2="625.75"/><line x1="103.78" y1="625.75" x2="121.85" y2="625.75"/><line x1="106.81" y1="608.3" x2="124.89" y2="608.3"/><line x1="115.85" y1="608.3" x2="115.85" y2="622.67"/><line x1="106.81" y1="622.67" x2="124.89" y2="622.67"/><line x1="109.82" y1="609.32" x2="127.89" y2="609.32"/><line x1="118.85" y1="609.32" x2="118.85" y2="620.62"/><line x1="109.82" y1="620.62" x2="127.89" y2="620.62"/><line x1="112.82" y1="606.24" x2="130.89" y2="606.24"/><line x1="121.85" y1="606.24" x2="121.85" y2="624.73"/><line x1="112.82" y1="624.73" x2="130.89" y2="624.73"/><line x1="118.85" y1="608.3" x2="136.93" y2="608.3"/><line x1="127.89" y1="608.3" x2="127.89" y2="622.98"/><line x1="118.85" y1="622.98" x2="136.93" y2="622.98"/><line x1="124.89" y1="610.35" x2="142.96" y2="610.35"/><line x1="133.93" y1="610.35" x2="133.93" y2="626.37"/><line x1="124.89" y1="626.37" x2="142.96" y2="626.37"/><line x1="136.93" y1="608.71" x2="155" y2="608.71"/><line x1="145.97" y1="608.71" x2="145.97" y2="621.03"/><line x1="136.93" y1="621.03" x2="155" y2="621.03"/><line x1="155" y1="613.74" x2="173.08" y2="613.74"/><line x1="164.04" y1="613.74" x2="164.04" y2="621.65"/><line x1="155" y1="621.65" x2="173.08" y2="621.65"/><line x1="173.08" y1="614.46" x2="191.15" y2="614.46"/><line x1="182.12" y1="614.46" x2="182.12" y2="625.75"/><line x1="173.08" y1="625.75" x2="191.15" y2="625.75"/><line x1="209.23" y1="601.52" x2="227.3" y2="601.52"/><line x1="218.27" y1="601.52" x2="218.27" y2="620.41"/><line x1="209.23" y1="620.41" x2="227.3" y2="620.41"/><line x1="245.38" y1="616.2" x2="263.45" y2="616.2"/><line x1="254.42" y1="616.2" x2="254.42" y2="628.73"/><line x1="245.38" y1="628.73" x2="263.45" y2="628.73"/><line x1="281.53" y1="610.66" x2="299.6" y2="610.66"/><line x1="290.57" y1="610.66" x2="290.57" y2="625.96"/><line x1="281.53" y1="625.96" x2="299.6" y2="625.96"/><line x1="317.68" y1="622.78" x2="335.75" y2="622.78"/><line x1="326.72" y1="622.78" x2="326.72" y2="634.38"/><line x1="317.68" y1="634.38" x2="335.75" y2="634.38"/><line x1="462.28" y1="608.71" x2="480.35" y2="608.71"/><line x1="471.32" y1="608.71" x2="471.32" y2="624.21"/><line x1="462.28" y1="624.21" x2="480.35" y2="624.21"/><line x1="606.88" y1="615.79" x2="624.95" y2="615.79"/><line x1="615.92" y1="615.79" x2="615.92" y2="630.89"/><line x1="606.88" y1="630.89" x2="624.95" y2="630.89"/><line x1="859.93" y1="625.75" x2="878" y2="625.75"/><line x1="868.97" y1="625.75" x2="868.97" y2="636.02"/><line x1="859.93" y1="636.02" x2="878" y2="636.02"/></g>
<g stroke="#1A1A1A" stroke-width="1.55" fill="none" stroke-dasharray="1.4 4.2"><line x1="101.14" y1="623.7" x2="119.21" y2="623.7"/><line x1="101.14" y1="623.7" x2="119.21" y2="623.7"/><line x1="102.66" y1="611.38" x2="120.73" y2="611.38"/><line x1="111.7" y1="611.38" x2="111.7" y2="626.78"/><line x1="102.66" y1="626.78" x2="120.73" y2="626.78"/><line x1="104.14" y1="607.27" x2="122.21" y2="607.27"/><line x1="113.18" y1="607.27" x2="113.18" y2="621.65"/><line x1="104.14" y1="621.65" x2="122.21" y2="621.65"/><line x1="107.18" y1="611.38" x2="125.25" y2="611.38"/><line x1="116.21" y1="611.38" x2="116.21" y2="627.81"/><line x1="107.18" y1="627.81" x2="125.25" y2="627.81"/><line x1="110.18" y1="608.3" x2="128.25" y2="608.3"/><line x1="119.21" y1="608.3" x2="119.21" y2="625.75"/><line x1="110.18" y1="625.75" x2="128.25" y2="625.75"/><line x1="113.18" y1="613.43" x2="131.25" y2="613.43"/><line x1="122.21" y1="613.43" x2="122.21" y2="629.86"/><line x1="113.18" y1="629.86" x2="131.25" y2="629.86"/><line x1="119.21" y1="610.35" x2="137.29" y2="610.35"/><line x1="128.25" y1="610.35" x2="128.25" y2="628.84"/><line x1="119.21" y1="628.84" x2="137.29" y2="628.84"/><line x1="125.25" y1="613.43" x2="143.33" y2="613.43"/><line x1="134.29" y1="613.43" x2="134.29" y2="632.33"/><line x1="125.25" y1="632.33" x2="143.33" y2="632.33"/><line x1="137.29" y1="612.71" x2="155.36" y2="612.71"/><line x1="146.33" y1="612.71" x2="146.33" y2="632.94"/><line x1="137.29" y1="632.94" x2="155.36" y2="632.94"/><line x1="155.36" y1="608.09" x2="173.44" y2="608.09"/><line x1="164.4" y1="608.09" x2="164.4" y2="626.37"/><line x1="155.36" y1="626.37" x2="173.44" y2="626.37"/><line x1="173.44" y1="616.31" x2="191.51" y2="616.31"/><line x1="182.48" y1="616.31" x2="182.48" y2="635.31"/><line x1="173.44" y1="635.31" x2="191.51" y2="635.31"/><line x1="209.59" y1="618.05" x2="227.66" y2="618.05"/><line x1="218.63" y1="618.05" x2="218.63" y2="633.76"/><line x1="209.59" y1="633.76" x2="227.66" y2="633.76"/><line x1="245.74" y1="616.2" x2="263.81" y2="616.2"/><line x1="254.78" y1="616.2" x2="254.78" y2="637.46"/><line x1="245.74" y1="637.46" x2="263.81" y2="637.46"/><line x1="281.89" y1="616.92" x2="299.96" y2="616.92"/><line x1="290.93" y1="616.92" x2="290.93" y2="636.02"/><line x1="281.89" y1="636.02" x2="299.96" y2="636.02"/><line x1="318.04" y1="619.59" x2="336.11" y2="619.59"/><line x1="327.08" y1="619.59" x2="327.08" y2="639.41"/><line x1="318.04" y1="639.41" x2="336.11" y2="639.41"/><line x1="462.64" y1="617.54" x2="480.71" y2="617.54"/><line x1="471.68" y1="617.54" x2="471.68" y2="636.64"/><line x1="462.64" y1="636.64" x2="480.71" y2="636.64"/><line x1="607.24" y1="621.65" x2="625.31" y2="621.65"/><line x1="616.28" y1="621.65" x2="616.28" y2="630.89"/><line x1="607.24" y1="630.89" x2="625.31" y2="630.89"/><line x1="860.29" y1="625.75" x2="878.36" y2="625.75"/><line x1="869.33" y1="625.75" x2="869.33" y2="636.02"/><line x1="860.29" y1="636.02" x2="878.36" y2="636.02"/></g>
<rect x="98.6" y="620.25" width="6.9" height="6.9" fill="#EC34D0"/>
<rect x="112.65" y="620.3" width="6.8" height="6.8" fill="none" stroke="#D21E34" stroke-width="1"/>
<circle cx="104.05" cy="623.7" r="3.3" fill="#66CC55"/>
<circle cx="103.05" cy="623.7" r="3.35" fill="none" stroke="#16861E" stroke-width="1"/>
<path d="M113.05 618.49L117.56 626.3L108.54 626.3Z" fill="#17BDF0"/>
<path d="M114.05 618.49L118.56 626.3L109.54 626.3Z" fill="none" stroke="#1F6FAB" stroke-width="1"/>
<g stroke="#F0561E" stroke-width="1" fill="none"><rect x="112.2" y="620.35" width="6.7" height="6.7"/><path d="M112.2 620.35L118.9 627.05M112.2 627.05L118.9 620.35"/></g>
<g stroke="#E6B914" stroke-width="1" fill="none"><circle cx="104.95" cy="623.7" r="3.35"/><path d="M101.35 620.1L108.55 627.3M101.35 627.3L108.55 620.1"/></g>
<path d="M104.25 623.7H113.85M109.05 618.9V628.5M105.55 620.2L112.55 627.2M105.55 627.2L112.55 620.2" stroke="#8C8C8C" stroke-width="1" fill="none"/>
<path d="M107.75 620.1L114.95 627.3M107.75 627.3L114.95 620.1" stroke="#1A1A1A" stroke-width="1.1" fill="none"/>
<line x1="45.85" y1="7" x2="45.85" y2="681.95" stroke="#000" stroke-width="1.4"/>
<line x1="45.15" y1="681.25" x2="1196.7" y2="681.25" stroke="#000" stroke-width="1.4"/>
<line x1="42.15" y1="675.05" x2="45.85" y2="675.05" stroke="#333" stroke-width="1.4"/>
<text x="38.7" y="679.65" font-size="12.4" fill="#4D4D4D" text-anchor="end">-5</text>
<line x1="42.15" y1="623.7" x2="45.85" y2="623.7" stroke="#333" stroke-width="1.4"/>
<text x="38.7" y="628.3" font-size="12.4" fill="#4D4D4D" text-anchor="end">0</text>
<line x1="42.15" y1="572.35" x2="45.85" y2="572.35" stroke="#333" stroke-width="1.4"/>
<text x="38.7" y="576.95" font-size="12.4" fill="#4D4D4D" text-anchor="end">5</text>
<line x1="42.15" y1="521" x2="45.85" y2="521" stroke="#333" stroke-width="1.4"/>
<text x="38.7" y="525.6" font-size="12.4" fill="#4D4D4D" text-anchor="end">10</text>
<line x1="42.15" y1="469.65" x2="45.85" y2="469.65" stroke="#333" stroke-width="1.4"/>
<text x="38.7" y="474.25" font-size="12.4" fill="#4D4D4D" text-anchor="end">15</text>
<line x1="42.15" y1="418.3" x2="45.85" y2="418.3" stroke="#333" stroke-width="1.4"/>
<text x="38.7" y="422.9" font-size="12.4" fill="#4D4D4D" text-anchor="end">20</text>
<line x1="42.15" y1="366.95" x2="45.85" y2="366.95" stroke="#333" stroke-width="1.4"/>
<text x="38.7" y="371.55" font-size="12.4" fill="#4D4D4D" text-anchor="end">25</text>
<line x1="42.15" y1="315.6" x2="45.85" y2="315.6" stroke="#333" stroke-width="1.4"/>
<text x="38.7" y="320.2" font-size="12.4" fill="#4D4D4D" text-anchor="end">30</text>
<line x1="42.15" y1="264.25" x2="45.85" y2="264.25" stroke="#333" stroke-width="1.4"/>
<text x="38.7" y="268.85" font-size="12.4" fill="#4D4D4D" text-anchor="end">35</text>
<line x1="42.15" y1="212.9" x2="45.85" y2="212.9" stroke="#333" stroke-width="1.4"/>
<text x="38.7" y="217.5" font-size="12.4" fill="#4D4D4D" text-anchor="end">40</text>
<line x1="42.15" y1="161.55" x2="45.85" y2="161.55" stroke="#333" stroke-width="1.4"/>
<text x="38.7" y="166.15" font-size="12.4" fill="#4D4D4D" text-anchor="end">45</text>
<line x1="42.15" y1="110.2" x2="45.85" y2="110.2" stroke="#333" stroke-width="1.4"/>
<text x="38.7" y="114.8" font-size="12.4" fill="#4D4D4D" text-anchor="end">50</text>
<line x1="42.15" y1="58.85" x2="45.85" y2="58.85" stroke="#333" stroke-width="1.4"/>
<text x="38.7" y="63.45" font-size="12.4" fill="#4D4D4D" text-anchor="end">55</text>
<line x1="42.15" y1="7.5" x2="45.85" y2="7.5" stroke="#333" stroke-width="1.4"/>
<text x="38.7" y="12.1" font-size="12.4" fill="#4D4D4D" text-anchor="end">60</text>
<line x1="72.4" y1="681.25" x2="72.4" y2="684.95" stroke="#333" stroke-width="1.4"/>
<text x="72.4" y="697.8" font-size="12.4" fill="#4D4D4D" text-anchor="middle">0</text>
<line x1="144.7" y1="681.25" x2="144.7" y2="684.95" stroke="#333" stroke-width="1.4"/>
<text x="144.7" y="697.8" font-size="12.4" fill="#4D4D4D" text-anchor="middle">2</text>
<line x1="217" y1="681.25" x2="217" y2="684.95" stroke="#333" stroke-width="1.4"/>
<text x="217" y="697.8" font-size="12.4" fill="#4D4D4D" text-anchor="middle">4</text>
<line x1="289.3" y1="681.25" x2="289.3" y2="684.95" stroke="#333" stroke-width="1.4"/>
<text x="289.3" y="697.8" font-size="12.4" fill="#4D4D4D" text-anchor="middle">6</text>
<line x1="361.6" y1="681.25" x2="361.6" y2="684.95" stroke="#333" stroke-width="1.4"/>
<text x="361.6" y="697.8" font-size="12.4" fill="#4D4D4D" text-anchor="middle">8</text>
<line x1="433.9" y1="681.25" x2="433.9" y2="684.95" stroke="#333" stroke-width="1.4"/>
<text x="433.9" y="697.8" font-size="12.4" fill="#4D4D4D" text-anchor="middle">10</text>
<line x1="506.2" y1="681.25" x2="506.2" y2="684.95" stroke="#333" stroke-width="1.4"/>
<text x="506.2" y="697.8" font-size="12.4" fill="#4D4D4D" text-anchor="middle">12</text>
<line x1="578.5" y1="681.25" x2="578.5" y2="684.95" stroke="#333" stroke-width="1.4"/>
<text x="578.5" y="697.8" font-size="12.4" fill="#4D4D4D" text-anchor="middle">14</text>
<line x1="650.8" y1="681.25" x2="650.8" y2="684.95" stroke="#333" stroke-width="1.4"/>
<text x="650.8" y="697.8" font-size="12.4" fill="#4D4D4D" text-anchor="middle">16</text>
<line x1="723.1" y1="681.25" x2="723.1" y2="684.95" stroke="#333" stroke-width="1.4"/>
<text x="723.1" y="697.8" font-size="12.4" fill="#4D4D4D" text-anchor="middle">18</text>
<line x1="795.4" y1="681.25" x2="795.4" y2="684.95" stroke="#333" stroke-width="1.4"/>
<text x="795.4" y="697.8" font-size="12.4" fill="#4D4D4D" text-anchor="middle">20</text>
<line x1="867.7" y1="681.25" x2="867.7" y2="684.95" stroke="#333" stroke-width="1.4"/>
<text x="867.7" y="697.8" font-size="12.4" fill="#4D4D4D" text-anchor="middle">22</text>
<line x1="940" y1="681.25" x2="940" y2="684.95" stroke="#333" stroke-width="1.4"/>
<text x="940" y="697.8" font-size="12.4" fill="#4D4D4D" text-anchor="middle">24</text>
<line x1="1012.3" y1="681.25" x2="1012.3" y2="684.95" stroke="#333" stroke-width="1.4"/>
<text x="1012.3" y="697.8" font-size="12.4" fill="#4D4D4D" text-anchor="middle">26</text>
<line x1="1084.6" y1="681.25" x2="1084.6" y2="684.95" stroke="#333" stroke-width="1.4"/>
<text x="1084.6" y="697.8" font-size="12.4" fill="#4D4D4D" text-anchor="middle">28</text>
<line x1="1156.9" y1="681.25" x2="1156.9" y2="684.95" stroke="#333" stroke-width="1.4"/>
<text x="1156.9" y="697.8" font-size="12.4" fill="#4D4D4D" text-anchor="middle">30</text>
<text x="621.05" y="714.9" font-size="15.25" fill="#000" text-anchor="middle">Time (days)</text>
<text transform="translate(14.9,343.55) rotate(-90)" x="0" y="0" font-size="15.35" fill="#000" text-anchor="middle">Mean change from baseline ANC (K /µL)</text>
<line x1="107.8" y1="753.2" x2="127.19999999999999" y2="753.2" stroke="#EC34D0" stroke-width="1.55" fill="none"/>
<rect x="114.05" y="749.75" width="6.9" height="6.9" fill="#EC34D0"/>
<text x="137.0" y="757.6" font-size="12.4" fill="#000">Eflapegrastim 45 µg/kg Japanese</text>
<line x1="107.8" y1="777.5" x2="127.19999999999999" y2="777.5" stroke="#D21E34" stroke-width="1.55" fill="none" stroke-dasharray="9.8 4.2"/>
<rect x="114.1" y="774.1" width="6.8" height="6.8" fill="none" stroke="#D21E34" stroke-width="1"/>
<text x="137.0" y="781.9" font-size="12.4" fill="#000">Eflapegrastim 45 µg/kg Caucasian</text>
<line x1="335.8" y1="753.2" x2="355.2" y2="753.2" stroke="#66CC55" stroke-width="1.55" fill="none"/>
<circle cx="345.5" cy="753.2" r="3.3" fill="#66CC55"/>
<text x="365.0" y="757.6" font-size="12.4" fill="#000">Eflapegrastim 135 µg/kg Japanese</text>
<line x1="335.8" y1="777.5" x2="355.2" y2="777.5" stroke="#16861E" stroke-width="1.55" fill="none" stroke-dasharray="9.8 4.2"/>
<circle cx="345.5" cy="777.5" r="3.35" fill="none" stroke="#16861E" stroke-width="1"/>
<text x="365.0" y="781.9" font-size="12.4" fill="#000">Eflapegrastim 135 µg/kg Caucasian</text>
<line x1="570.5999999999999" y1="753.2" x2="589.9999999999999" y2="753.2" stroke="#17BDF0" stroke-width="1.55" fill="none"/>
<path d="M580.3 747.99L584.81 755.8L575.79 755.8Z" fill="#17BDF0"/>
<text x="599.8" y="757.6" font-size="12.4" fill="#000">Eflapegrastim 270 µg/kg Japanese</text>
<line x1="570.5999999999999" y1="777.5" x2="589.9999999999999" y2="777.5" stroke="#1F6FAB" stroke-width="1.55" fill="none" stroke-dasharray="9.8 4.2"/>
<path d="M580.3 772.29L584.81 780.1L575.79 780.1Z" fill="none" stroke="#1F6FAB" stroke-width="1"/>
<text x="599.8" y="781.9" font-size="12.4" fill="#000">Eflapegrastim 270 µg/kg Caucasian</text>
<line x1="804.8" y1="753.2" x2="824.1999999999999" y2="753.2" stroke="#E6B914" stroke-width="1.55" fill="none"/>
<g stroke="#E6B914" stroke-width="1" fill="none"><circle cx="814.5" cy="753.2" r="3.35"/><path d="M810.9 749.6L818.1 756.8M810.9 756.8L818.1 749.6"/></g>
<text x="834.0" y="757.6" font-size="12.4" fill="#000">Pegfilgrastim 6 mg Japanese</text>
<line x1="804.8" y1="777.5" x2="824.1999999999999" y2="777.5" stroke="#F0561E" stroke-width="1.55" fill="none" stroke-dasharray="9.8 4.2"/>
<g stroke="#F0561E" stroke-width="1" fill="none"><rect x="811.15" y="774.15" width="6.7" height="6.7"/><path d="M811.15 774.15L817.85 780.85M811.15 780.85L817.85 774.15"/></g>
<text x="834.0" y="781.9" font-size="12.4" fill="#000">Pegfilgrastim 6 mg Caucasian</text>
<line x1="1008.7" y1="753.2" x2="1028.1000000000001" y2="753.2" stroke="#8C8C8C" stroke-width="1.55" fill="none" stroke-dasharray="1.4 4.2 5.6 4.2"/>
<path d="M1013.6 753.2H1023.2M1018.4 748.4V758M1014.9 749.7L1021.9 756.7M1014.9 756.7L1021.9 749.7" stroke="#8C8C8C" stroke-width="1" fill="none"/>
<text x="1037.9" y="757.6" font-size="12.4" fill="#000">Placebo Japanese</text>
<line x1="1008.7" y1="777.5" x2="1028.1000000000001" y2="777.5" stroke="#1A1A1A" stroke-width="1.55" fill="none" stroke-dasharray="1.4 4.2"/>
<path d="M1014.8 773.9L1022 781.1M1014.8 781.1L1022 773.9" stroke="#1A1A1A" stroke-width="1.1" fill="none"/>
<text x="1037.9" y="781.9" font-size="12.4" fill="#000">Placebo Caucasian</text>
</svg></body></html>
